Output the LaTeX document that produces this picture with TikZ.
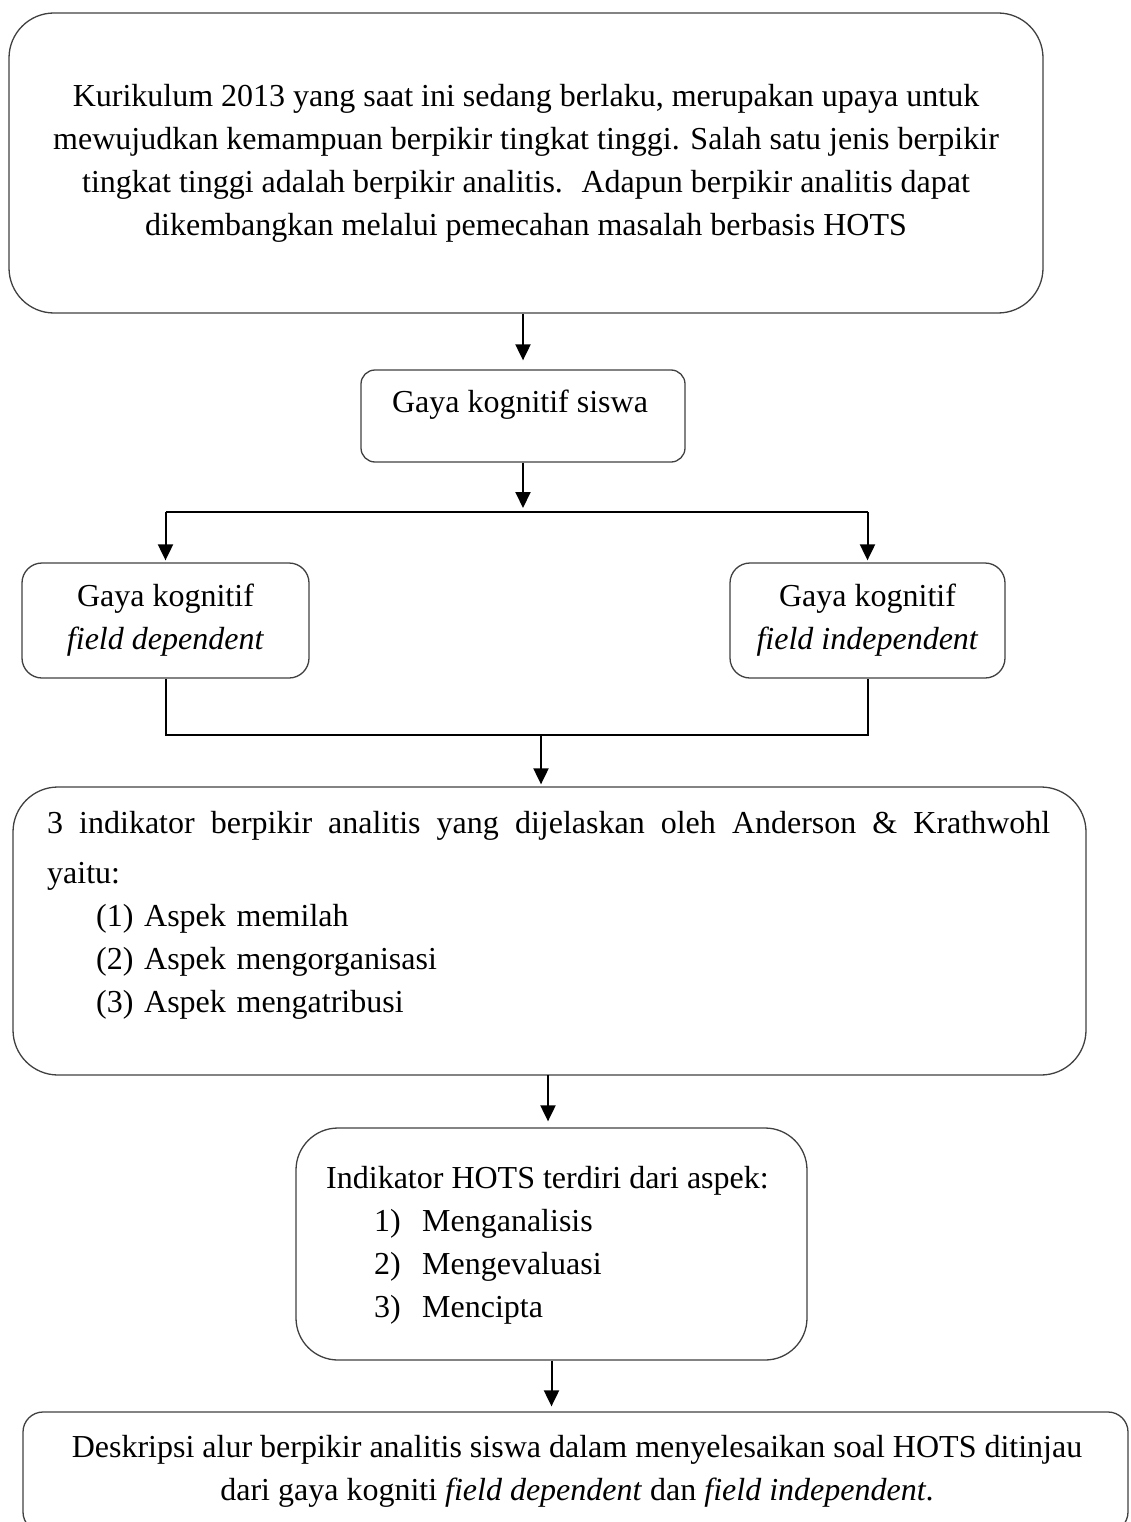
\documentclass[tikz,border=0pt]{standalone}
\usepackage{fontspec}
\setmainfont{Liberation Serif}
\usetikzlibrary{arrows.meta}

\begin{document}
\begin{tikzpicture}[x=1pt,y=-1pt,
  blok/.style={draw=black!75, line width=1.3pt, inner sep=0pt, font=\fontsize{32}{43}\selectfont},
  teks/.style={inner sep=0pt, font=\fontsize{32}{43}\selectfont},
  panah/.style={-{Triangle[length=16pt,width=15pt]}, line width=2pt},
  garis/.style={line width=2pt}]
 \useasboundingbox (0,0) rectangle (1130,1522);
 \clip (0,0) rectangle (1130,1522);
 % kotak-kotak
 \node[blok, minimum width=1034pt, minimum height=300pt, rounded corners=45pt, align=center] (kurikulum) at (526,163)
   {Kurikulum 2013 yang saat ini sedang berlaku, merupakan upaya untuk\\
    mewujudkan kemampuan berpikir tingkat tinggi. Salah satu jenis berpikir\\
    tingkat tinggi adalah berpikir analitis.~ Adapun berpikir analitis dapat\\
    dikembangkan melalui pemecahan masalah berbasis HOTS};
 \node[blok, minimum width=324pt, minimum height=92pt, rounded corners=14pt] (siswa) at (523,416) {};
 \node[teks] (siswatxt) at (520,405) {Gaya kognitif siswa};
 \node[blok, minimum width=287pt, minimum height=115pt, rounded corners=20pt, align=center] (fd) at (165.5,620.5)
   {Gaya kognitif\\\textit{field dependent}};
 \node[blok, minimum width=275pt, minimum height=115pt, rounded corners=20pt, align=center] (fi) at (867.5,620.5)
   {Gaya kognitif\\\textit{field independent}};
 \node[blok, minimum width=1073pt, minimum height=288pt, rounded corners=45pt] (indikator) at (549.5,931) {};
 \node[teks, anchor=north west, text width=1003pt, align=left] (indikatortxt) at (47,811)
   {\hbox to 1003pt{3\hfill indikator\hfill berpikir\hfill analitis\hfill yang\hfill dijelaskan\hfill oleh\hfill Anderson\hfill \&\hfill Krathwohl}\\[7pt]
    yaitu:\\
    \hspace*{49pt}\makebox[48pt][l]{(1)}Aspek memilah\\
    \hspace*{49pt}\makebox[48pt][l]{(2)}Aspek mengorganisasi\\
    \hspace*{49pt}\makebox[48pt][l]{(3)}Aspek mengatribusi};
 \node[blok, minimum width=511pt, minimum height=232pt, rounded corners=42pt] (hots) at (551.5,1244) {};
 \node[teks, anchor=north west, align=left] (hotstxt) at (326,1166)
   {Indikator HOTS terdiri dari aspek:\\
    \hspace*{48pt}\makebox[48pt][l]{1)}Menganalisis\\
    \hspace*{48pt}\makebox[48pt][l]{2)}Mengevaluasi\\
    \hspace*{48pt}\makebox[48pt][l]{3)}Mencipta};
 \node[blok, minimum width=1105pt, minimum height=120pt, rounded corners=20pt] (deskripsi) at (575.5,1472) {};
 \node[teks, anchor=north, align=center] (deskripsitxt) at (577,1435)
   {Deskripsi alur berpikir analitis siswa dalam menyelesaikan soal HOTS ditinjau\\
    dari gaya kogniti \textit{field dependent} dan \textit{field independent}.};
 % panah
 \coordinate (cabang) at (523,512);
 \coordinate (gabung) at (541,735);
 \coordinate (turun) at (548,1075);
 \draw[panah, shorten >=9pt] (kurikulum.south -| siswa.north) -- (siswa.north);
 \draw[panah, shorten >=4pt] (siswa.south) -- (cabang);
 \draw[garis] (cabang -| fd.north) -- (cabang -| fi.north);
 \foreach \n in {fd,fi}
   \draw[panah, shorten >=2pt] (cabang -| \n.north) -- (\n.north);
 \draw[garis] (fd.south) -- (fd.south |- gabung) -- (fi.south |- gabung) -- (fi.south);
 \draw[panah, shorten >=2pt] (gabung) -- (gabung |- indikator.north);
 \draw[panah, shorten >=6pt] (turun) -- (turun |- hots.north);
 \draw[panah, shorten >=5pt] (hots.south) -- (deskripsi.north -| hots.south);
\end{tikzpicture}
\end{document}
